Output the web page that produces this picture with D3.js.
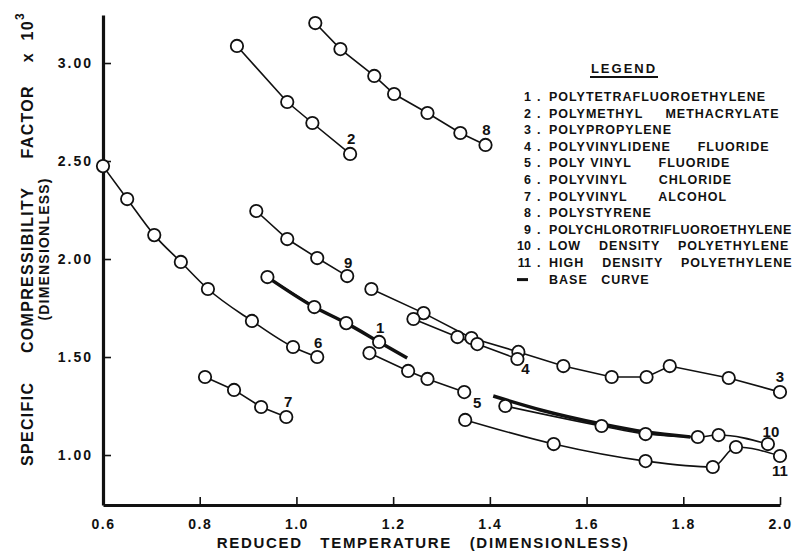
<!DOCTYPE html>
<html>
<head>
<meta charset="utf-8">
<script src="https://cdn.jsdelivr.net/npm/d3@7"></script>
<style>
body{margin:0;background:#fff;}
svg text{font-family:"Liberation Sans",Arial,sans-serif;font-weight:bold;fill:#111;}
</style>
</head>
<body>
<script>
// reduced temperature (x) vs specific compressibility factor x 10^3 (y)
var s1x=[0.940,1.037,1.103,1.171];
var s1y=[1.908,1.755,1.673,1.577];
var s2x=[0.877,0.981,1.033,1.111];
var s2y=[3.087,2.801,2.694,2.536];
var s3x=[1.155,1.263,1.362,1.459,1.552,1.652,1.724,1.772,1.894,2.000];
var s3y=[1.847,1.724,1.597,1.526,1.454,1.398,1.398,1.454,1.393,1.321];
var s4x=[1.242,1.333,1.374,1.457];
var s4y=[1.694,1.602,1.566,1.490];
var s5x=[1.151,1.231,1.271,1.347];
var s5y=[1.520,1.429,1.388,1.321];
var s6x=[0.600,0.650,0.706,0.761,0.817,0.908,0.993,1.043];
var s6y=[2.474,2.306,2.122,1.985,1.847,1.684,1.551,1.500];
var s7x=[0.811,0.871,0.927,0.979];
var s7y=[1.398,1.332,1.245,1.194];
var s8x=[1.039,1.091,1.161,1.202,1.271,1.339,1.391];
var s8y=[3.204,3.071,2.934,2.842,2.745,2.643,2.582];
var s9x=[0.917,0.981,1.043,1.105];
var s9y=[2.245,2.102,2.005,1.913];
var s10x=[1.432,1.631,1.722,1.830,1.873,1.975];
var s10y=[1.250,1.148,1.107,1.092,1.102,1.056];
var s11x=[1.349,1.532,1.722,1.861,1.909,2.000];
var s11y=[1.179,1.056,0.969,0.939,1.041,0.995];
// base curve, two pieces
var base1x=[0.940,1.037,1.103,1.171,1.229];
var base1y=[1.908,1.755,1.673,1.577,1.495];
var base2x=[1.407,1.505,1.631,1.722,1.815];
var base2y=[1.301,1.230,1.158,1.117,1.092];

var xTicks=[0.6,0.8,1.0,1.2,1.4,1.6,1.8,2.0];
var yTicks=[1.0,1.5,2.0,2.5,3.0];

var legendNums=["1","2","3","4","5","6","7","8","9","10","11"];
var legendNames=["POLYTETRAFLUOROETHYLENE","POLYMETHYL     METHACRYLATE","POLYPROPYLENE",
  "POLYVINYLIDENE      FLUORIDE","POLY VINYL      FLUORIDE","POLYVINYL       CHLORIDE","POLYVINYL       ALCOHOL",
  "POLYSTYRENE","POLYCHLOROTRIFLUOROETHYLENE","LOW    DENSITY    POLYETHYLENE","HIGH    DENSITY    POLYETHYLENE"];

var series=[
  {id:"1",x:s1x,y:s1y},{id:"2",x:s2x,y:s2y},{id:"3",x:s3x,y:s3y},{id:"4",x:s4x,y:s4y},
  {id:"5",x:s5x,y:s5y},{id:"6",x:s6x,y:s6y,smooth:true},{id:"7",x:s7x,y:s7y},{id:"8",x:s8x,y:s8y},
  {id:"9",x:s9x,y:s9y},{id:"10",x:s10x,y:s10y,smooth:true},{id:"11",x:s11x,y:s11y,smooth:true}
];
// label offsets (px) from the last point of each curve
var labelOff={"1":[1,-14],"2":[1,-15],"3":[0,-16],"4":[8,10],"5":[13,10],"6":[1,-15],
  "7":[2,-15],"8":[1,-15],"9":[1,-14],"10":[3,-13],"11":[0,14]};

function pts(xs,ys){return xs.map(function(v,i){return [v,ys[i]];});}

var width=801,height=556;
var svg=d3.select("body").append("svg").attr("width",width).attr("height",height);

var x=d3.scaleLinear().domain([0.6,2.0]).range([103,780]);
var y=d3.scaleLinear().domain([0.745,3.245]).range([505,15]);

var line=d3.line()
  .x(function(d){return x(d[0]);})
  .y(function(d){return y(d[1]);});
var smoothLine=d3.line()
  .x(function(d){return x(d[0]);})
  .y(function(d){return y(d[1]);})
  .curve(d3.curveMonotoneX);

// axes
var yAxis=d3.axisLeft(y).tickValues(yTicks).tickSizeInner(-8).tickSizeOuter(0)
  .tickPadding(10).tickFormat(d3.format(".2f"));
var xAxis=d3.axisBottom(x).tickValues(xTicks).tickSizeInner(-8).tickSizeOuter(0)
  .tickPadding(11).tickFormat(d3.format(".1f"));

var gy=svg.append("g").attr("transform","translate("+x(0.6)+",0)").call(yAxis);
var gx=svg.append("g").attr("transform","translate(0,"+y(0.745)+")").call(xAxis);
[gx,gy].forEach(function(g){
  g.select(".domain").attr("stroke","#111").attr("stroke-width",3.2);
  g.selectAll(".tick line").attr("stroke","#111").attr("stroke-width",1.6);
  g.selectAll(".tick text").attr("font-size",14).attr("fill","#111")
    .attr("font-family","Liberation Sans, Arial, sans-serif");
});
gy.selectAll(".tick text").attr("letter-spacing",2);
gx.selectAll(".tick text").attr("letter-spacing",1.5).attr("dy","0.9em");

// thin curves
svg.append("g").selectAll("path.curve").data(series).enter().append("path")
  .attr("class","curve")
  .attr("d",function(s){return (s.smooth?smoothLine:line)(pts(s.x,s.y));})
  .attr("fill","none").attr("stroke","#111").attr("stroke-width",1.6);

// base curve
svg.append("g").selectAll("path.base").data([pts(base1x,base1y),pts(base2x,base2y)]).enter().append("path")
  .attr("class","base")
  .attr("d",smoothLine)
  .attr("fill","none").attr("stroke","#111").attr("stroke-width",3.5);

// points
series.forEach(function(s){
  svg.append("g").selectAll("circle").data(pts(s.x,s.y)).enter().append("circle")
    .attr("cx",function(d){return x(d[0]);})
    .attr("cy",function(d){return y(d[1]);})
    .attr("r",6.2)
    .attr("fill","#fff").attr("stroke","#111").attr("stroke-width",1.8);
});

// curve labels
svg.append("g").selectAll("text").data(series).enter().append("text")
  .attr("x",function(s){return x(s.x[s.x.length-1])+labelOff[s.id][0];})
  .attr("y",function(s){return y(s.y[s.y.length-1])+labelOff[s.id][1];})
  .attr("text-anchor","middle").attr("dominant-baseline","central")
  .attr("font-size",15)
  .text(function(s){return s.id;});

// legend
var lg=svg.append("g");
lg.append("text").attr("x",624).attr("y",68).attr("text-anchor","middle")
  .attr("dominant-baseline","central").attr("font-size",13).attr("letter-spacing",2).text("LEGEND");
lg.append("line").attr("x1",590).attr("x2",658).attr("y1",77).attr("y2",77)
  .attr("stroke","#111").attr("stroke-width",2);
legendNames.forEach(function(name,i){
  var yy=97+i*16.6;
  var tight=name.indexOf(" ")<0 && name.length>24;  // the long one nearly hits the edge
  lg.append("text").attr("x",531).attr("y",yy).attr("text-anchor","end")
    .attr("dominant-baseline","central").attr("font-size",12.5).text(legendNums[i]);
  lg.append("text").attr("x",537).attr("y",yy).attr("text-anchor","start")
    .attr("dominant-baseline","central").attr("font-size",12.5).text(".");
  lg.append("text").attr("x",549).attr("y",yy).attr("dominant-baseline","central")
    .attr("font-size",12.5).attr("letter-spacing",tight?0.6:1)
    .style("white-space","pre").text(name);
});
var by=97+legendNames.length*16.6;
lg.append("line").attr("x1",517).attr("x2",528).attr("y1",by).attr("y2",by)
  .attr("stroke","#111").attr("stroke-width",3);
lg.append("text").attr("x",549).attr("y",by).attr("dominant-baseline","central")
  .attr("font-size",12.5).attr("letter-spacing",1).style("white-space","pre").text("BASE   CURVE");

// axis titles
svg.append("text").attr("x",423).attr("y",542).attr("text-anchor","middle")
  .attr("dominant-baseline","central").attr("font-size",15).attr("letter-spacing",1.7)
  .style("white-space","pre").text("REDUCED   TEMPERATURE   (DIMENSIONLESS)");

var yt=svg.append("text").attr("transform","translate(27,239) rotate(-90)")
  .attr("text-anchor","middle").attr("dominant-baseline","central")
  .attr("font-size",16).attr("letter-spacing",1.3).style("white-space","pre");
yt.append("tspan").text("SPECIFIC     COMPRESSIBILITY     FACTOR    x  10");
yt.append("tspan").attr("font-size",12).attr("dy","-7").text("3");
svg.append("text").attr("transform","translate(44,249) rotate(-90)")
  .attr("text-anchor","middle").attr("dominant-baseline","central")
  .attr("font-size",14).attr("letter-spacing",1.2).text("(DIMENSIONLESS)");
</script>
</body>
</html>
